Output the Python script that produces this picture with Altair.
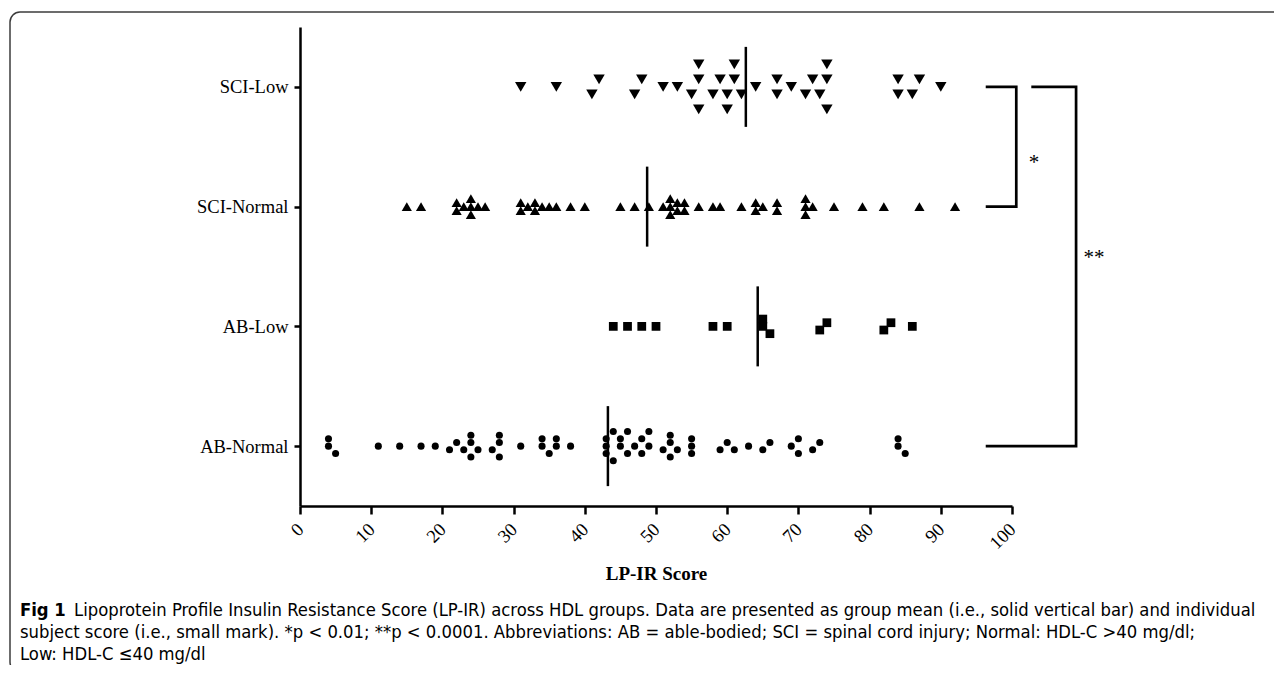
import json
import altair as alt
import pandas as pd

# ---------------- data ----------------
groups = ["SCI-Low", "SCI-Normal", "AB-Low", "AB-Normal"]

sci_low = [31, 36, 41, 42, 47, 48, 51, 53, 55, 56, 56, 56, 58, 59, 60, 60, 61, 61,
           62, 64, 67, 67, 69, 71, 72, 73, 74, 74, 74, 84, 84, 86, 87, 90]
sci_normal = [15, 17, 22, 22, 23, 24, 24, 24, 25, 26, 31, 31, 32, 33, 33, 34, 35, 36,
              38, 40, 45, 47, 49, 51, 52, 52, 52, 53, 53, 54, 54, 56, 58, 59, 62, 64,
              64, 65, 67, 67, 71, 71, 71, 72, 75, 79, 82, 87, 92]
ab_low = [44, 46, 48, 50, 58, 60, 65, 65, 66, 73, 74, 82, 83, 86]
ab_normal = [4, 4, 5, 11, 14, 17, 19, 21, 22, 23, 24, 24, 24, 25, 27, 28, 28, 28, 31,
             34, 34, 35, 36, 36, 38, 43, 43, 43, 44, 44, 45, 45, 46, 46, 47, 48, 48,
             49, 49, 51, 52, 52, 52, 53, 55, 55, 55, 59, 60, 61, 63, 65, 66, 69, 70,
             70, 72, 73, 84, 84, 85]
group_values = [sci_low, sci_normal, ab_low, ab_normal]

x_ticks = list(range(0, 101, 10))
x_title = "LP-IR Score"
comparisons = [("SCI-Low", "SCI-Normal", "*"), ("SCI-Low", "AB-Normal", "**")]

caption_bold = "Fig 1"
caption_line1 = ("Lipoprotein Profile Insulin Resistance Score (LP-IR) across HDL groups. "
                 "Data are presented as group mean (i.e., solid vertical bar) and individual")
caption_line2 = ("subject score (i.e., small mark). *p < 0.01; **p < 0.0001. Abbreviations: "
                 "AB = able-bodied; SCI = spinal cord injury; Normal: HDL-C >40 mg/dl;")
caption_line3 = "Low: HDL-C \u226440 mg/dl"

# ---------------- layout / style ----------------
PLOT_W, PLOT_H = 712, 479
PX = PLOT_W / 100.0
STEP = PLOT_H / len(groups)
shapes = ["triangle-down", "triangle-up", "square", "circle"]
sizes = [130, 50, 40, 42]
# footprint used for the beeswarm dodge (px): width, height, vertical step
dodge_par = [(13, 14.5, 7.5), (7, 8, 4), (7.3, 7.2, 3.65), (13.5, 7.2, 3.65)]
SERIF = "Liberation Serif"
SANS = "'DejaVu Sans Condensed', 'Open Sans', sans-serif"
LABEL_SIZE = 18.5


def dodge(vals, w, h, step):
    idx = sorted(range(len(vals)), key=lambda i: vals[i])
    placed, off = [], [0.0] * len(vals)
    cands = [0] + [s * k for k in range(1, 40) for s in (-1, 1)]
    for i in idx:
        xp = vals[i] * PX
        for c in cands:
            dy = c * step
            if all(abs(xp - px) >= w or abs(dy - py) >= h - 1e-9 for px, py in placed):
                break
        placed.append((xp, dy))
        off[i] = dy
    clusters, cur = [], [idx[0]]
    for a, b in zip(idx, idx[1:]):
        if (vals[b] - vals[a]) * PX < w:
            cur.append(b)
        else:
            clusters.append(cur)
            cur = [b]
    clusters.append(cur)
    for cl in clusters:
        ys = [off[i] for i in cl]
        sh = -(max(ys) + min(ys)) / 2
        for i in cl:
            off[i] += sh
    return off


rows = []
for gi, (g, vals) in enumerate(zip(groups, group_values)):
    offs = dodge(vals, *dodge_par[gi])
    for v, o in zip(vals, offs):
        rows.append({"group": g, "value": v, "gi": gi, "yy": gi + o / STEP})
df = pd.DataFrame(rows)

# brackets (annotation geometry in data units)
br_start_top = [96.5, 102.9]
br_spine = [100.6, 109.0]
br_start_bot = [96.5, 96.5]
star_x = [103.1, 111.5]
star_dy_px = [16, -8.5]
brows, srows = [], []
for k, (a, b, lab) in enumerate(comparisons):
    ia, ib = groups.index(a), groups.index(b)
    pts = [(br_start_top[k], ia), (br_spine[k], ia), (br_spine[k], ib), (br_start_bot[k], ib)]
    for o, (bx, by) in enumerate(pts):
        brows.append({"bid": k, "o": o, "bx": bx, "by": by})
    srows.append({"label": lab, "sx": star_x[k], "sy": (ia + ib) / 2 + star_dy_px[k] / STEP})
bdf = pd.DataFrame(brows)
sdf = pd.DataFrame(srows)

xscale = alt.Scale(domain=[0, 100], nice=False, zero=False)
yscale = alt.Scale(domain=[-0.5, len(groups) - 0.5], reverse=True, nice=False, zero=False)

label_expr = json.dumps(groups) + "[datum.value]"

xaxis = alt.Axis(values=x_ticks, title=x_title, labelAngle=315, labelAlign="right",
                 labelBaseline="middle", labelFont=SERIF, labelFontSize=LABEL_SIZE,
                 labelColor="black", labelPadding=12, labelFlush=False, labelOverlap=False,
                 tickSize=8, tickWidth=2.5, tickColor="black",
                 domainColor="black", domainWidth=2.5, grid=False,
                 titleFont=SERIF, titleFontSize=19, titleFontWeight="bold", titleColor="black",
                 titlePadding=12, zindex=1)
yaxis = alt.Axis(values=list(range(len(groups))), labelExpr=label_expr, title=None,
                 labelFont=SERIF, labelFontSize=LABEL_SIZE, labelColor="black", labelPadding=6,
                 tickSize=6, tickWidth=2.5, tickColor="black",
                 domainColor="black", domainWidth=2.5, grid=False, zindex=1)

one = pd.DataFrame({"k": [0]})

points = alt.Chart(df).mark_point(filled=True, opacity=1, color="black", strokeWidth=0).encode(
    x=alt.X("value:Q", scale=xscale, axis=xaxis),
    y=alt.Y("yy:Q", scale=yscale, axis=yaxis),
    shape=alt.Shape("group:N", scale=alt.Scale(domain=groups, range=shapes), legend=None),
    size=alt.Size("group:O", scale=alt.Scale(domain=groups, range=sizes), legend=None),
)

frame = alt.Chart(one).mark_rect(filled=False, fillOpacity=0, stroke="#3c3c3c",
                                 strokeWidth=1.5, cornerRadius=10).encode(
    x=alt.value(-290), x2=alt.value(995), y=alt.value(-15), y2=alt.value(645))

means = alt.Chart(df).mark_tick(orient="vertical", color="black", size=80,
                                thickness=2.5, opacity=1).encode(
    x=alt.X("mean(value):Q", scale=xscale, axis=xaxis),
    y=alt.Y("gi:Q", scale=yscale, axis=yaxis),
)

brackets = alt.Chart(bdf).mark_line(color="black", strokeWidth=2.7, strokeCap="square",
                                    strokeJoin="miter").encode(
    x=alt.X("bx:Q", scale=xscale, axis=xaxis),
    y=alt.Y("by:Q", scale=yscale, axis=yaxis),
    detail="bid:N",
    order="o:Q",
)

stars = alt.Chart(sdf).mark_text(font=SERIF, fontSize=21, color="black", align="center",
                                 baseline="middle").encode(
    x=alt.X("sx:Q", scale=xscale, axis=xaxis),
    y=alt.Y("sy:Q", scale=yscale, axis=yaxis),
    text="label:N",
)

cap_kw = dict(font=SANS, fontSize=18.3, color="black", align="left", baseline="middle")
cap0 = alt.Chart(one).mark_text(text=caption_bold, fontWeight="bold", **cap_kw).encode(
    x=alt.value(-280), y=alt.value(584))
cap1 = alt.Chart(one).mark_text(text=caption_line1, **cap_kw).encode(
    x=alt.value(-226), y=alt.value(584))
cap2 = alt.Chart(one).mark_text(text=caption_line2, **cap_kw).encode(
    x=alt.value(-280), y=alt.value(606))
cap3 = alt.Chart(one).mark_text(text=caption_line3, **cap_kw).encode(
    x=alt.value(-280), y=alt.value(628))

chart = alt.layer(points, frame, means, brackets, stars, cap0, cap1, cap2, cap3).properties(
    width=PLOT_W, height=PLOT_H,
    padding={"left": 292, "top": 19, "right": 262, "bottom": 159},
    autosize=alt.AutoSizeParams(type="none"),
    background="white",
).configure_view(stroke=None)

chart.save("out.html", embed_options={"renderer": "svg", "actions": False})
